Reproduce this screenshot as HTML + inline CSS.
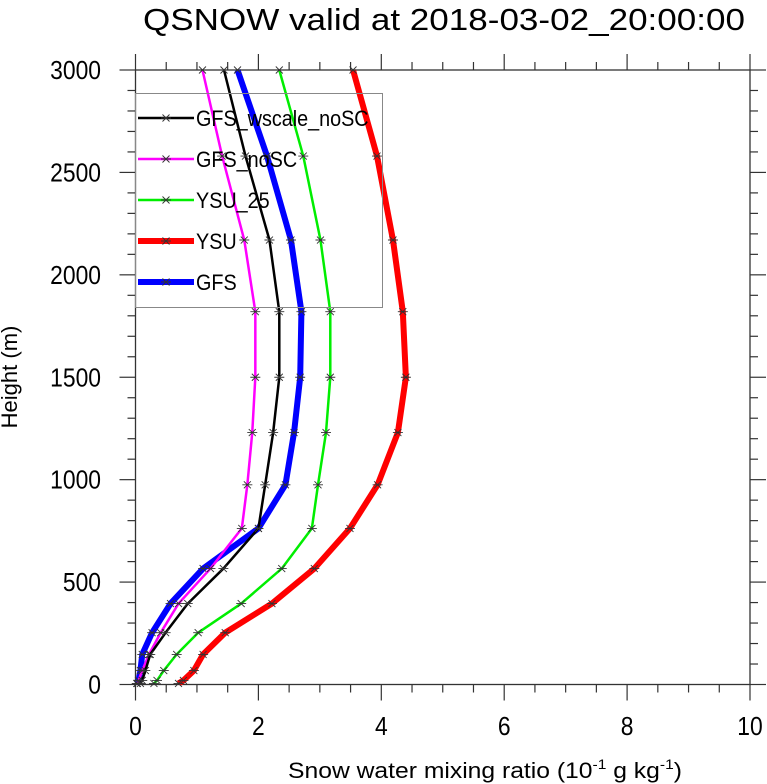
<!DOCTYPE html>
<html><head><meta charset="utf-8"><style>
body{margin:0;background:#fff}
svg{display:block;font-family:"Liberation Sans",sans-serif}
</style></head><body>
<svg id="chart" width="767" height="784" xmlns="http://www.w3.org/2000/svg">
<text x="143" y="30" font-size="31" textLength="602" lengthAdjust="spacingAndGlyphs">QSNOW valid at 2018-03-02_20:00:00</text>
<text transform="translate(17,377) rotate(-90)" font-size="22" text-anchor="middle">Height (m)</text>
<g transform="translate(485,778) scale(1.3,1.15)"><text x="0" y="0" font-size="19" text-anchor="middle">Snow water mixing ratio (10<tspan font-size="12" dy="-8">-1</tspan><tspan dy="8"> g kg</tspan><tspan font-size="12" dy="-8">-1</tspan><tspan dy="8">)</tspan></text></g>
<g id="axes"></g>
<g id="series"></g>
<g id="legend"></g>
</svg>
<script>
const heights=[5,20,68,147,253,395,566,762,975,1230,1500,1820,2170,2580,3000];
const seriesNames=["GFS_wscale_noSC","GFS_noSC","YSU_25","YSU","GFS"];
const blackVals=[0.08,0.11,0.16,0.24,0.49,0.85,1.43,2.00,2.11,2.24,2.34,2.34,2.18,1.79,1.44];
const magentaVals=[0.03,0.05,0.11,0.22,0.41,0.70,1.22,1.73,1.82,1.90,1.95,1.95,1.77,1.41,1.09];
const greenVals=[0.30,0.35,0.46,0.67,1.02,1.72,2.38,2.87,2.97,3.10,3.17,3.17,3.01,2.73,2.34];
const redVals=[0.70,0.78,0.95,1.10,1.46,2.22,2.91,3.49,3.94,4.27,4.40,4.35,4.19,3.93,3.54];
const blueVals=[0.02,0.05,0.08,0.11,0.27,0.57,1.10,2.00,2.44,2.58,2.68,2.70,2.53,2.14,1.66];
const xTicks=[0,2,4,6,8,10];
const yTicks=[0,500,1000,1500,2000,2500,3000];

const NS="http://www.w3.org/2000/svg";
const X0=135.5,X1=750,Y0=684.5,Y1=70;
const xs=v=>X0+(X1-X0)*v/10;
const ys=v=>Y0+(Y1-Y0)*v/3000;
function mk(t,a,p){const e=document.createElementNS(NS,t);for(const k in a)e.setAttribute(k,a[k]);p.appendChild(e);return e;}
const ax=document.getElementById('axes');
const ac="#333";
let fr=mk('rect',{x:X0,y:Y1,width:X1-X0,height:Y0-Y1,fill:'none',stroke:ac,'stroke-width':1.3},ax);

for(let v=0;v<=10.001;v+=0.5){
  const major=Math.abs(v%2)<1e-6, L=major?16:8, x=xs(v);
  let t=mk('line',{x1:x,x2:x,y1:Y0,y2:Y0+L,stroke:ac,'stroke-width':1.2},ax);
  
  let t2=mk('line',{x1:x,x2:x,y1:Y1,y2:Y1-L,stroke:ac,'stroke-width':1.2},ax);
  
}
xTicks.forEach(v=>{let t=mk('text',{x:0,y:0,'font-size':26,'text-anchor':'middle',transform:`translate(${xs(v)},735) scale(0.88,1)`},ax);t.textContent=v;
});
for(let v=0;v<=3000;v+=100){
  const major=v%500===0, L=major?16:8, y=ys(v);
  let t=mk('line',{x1:X0-L,x2:X0,y1:y,y2:y,stroke:ac,'stroke-width':1.2},ax);
  
  let t2=mk('line',{x1:X1,x2:X1+L,y1:y,y2:y,stroke:ac,'stroke-width':1.2},ax);
  
}
yTicks.forEach(v=>{let t=mk('text',{x:0,y:0,'font-size':26,'text-anchor':'end',transform:`translate(101,${ys(v)+9}) scale(0.88,1)`},ax);t.textContent=v;
});

const sg=document.getElementById('series');
const defs=[[redVals,'#ff0000',6,'ysu'],[greenVals,'#00ee00',2.5,'ysu-25'],[blueVals,'#0000ff',6,'gfs'],[magentaVals,'#ff00ff',2.5,'gfs-nosc'],[blackVals,'#000',2.5,'gfs-wscale-nosc']];
function star(g,x,y,name){
  const s=5;
  let p=mk('path',{d:`M${x-s},${y}H${x+s}M${x-s*.7},${y-s*.7}L${x+s*.7},${y+s*.7}M${x-s*.7},${y+s*.7}L${x+s*.7},${y-s*.7}`,stroke:'#333','stroke-width':0.9,fill:'none'},g);
  
}
defs.forEach(([vals,c,w,n])=>{
  let pl=mk('polyline',{points:vals.map((v,i)=>xs(v)+','+ys(heights[i])).join(' '),fill:'none',stroke:c,'stroke-width':w,'stroke-linejoin':'round'},sg);
  
  vals.forEach((v,i)=>star(sg,xs(v),ys(heights[i]),'marker-'+n));
});

const lg=document.getElementById('legend');
let lb=mk('rect',{x:135.5,y:93.5,width:247,height:214,fill:'none',stroke:'#888','stroke-width':1},lg);

const legColors=['#000','#ff00ff','#00ee00','#ff0000','#0000ff'];
const legW=[2.5,2.5,2.5,6,6];
seriesNames.forEach((nm,i)=>{
  const y=118+i*41;
  let l=mk('line',{x1:138,x2:194,y1:y,y2:y,stroke:legColors[i],'stroke-width':legW[i]},lg);
  
  star(lg,166,y,'legend-marker');
  let t=mk('text',{x:0,y:0,'font-size':22,transform:`translate(196,${y+8}) scale(0.9,1)`},lg);t.textContent=nm;
  
});
</script>
</body></html>
